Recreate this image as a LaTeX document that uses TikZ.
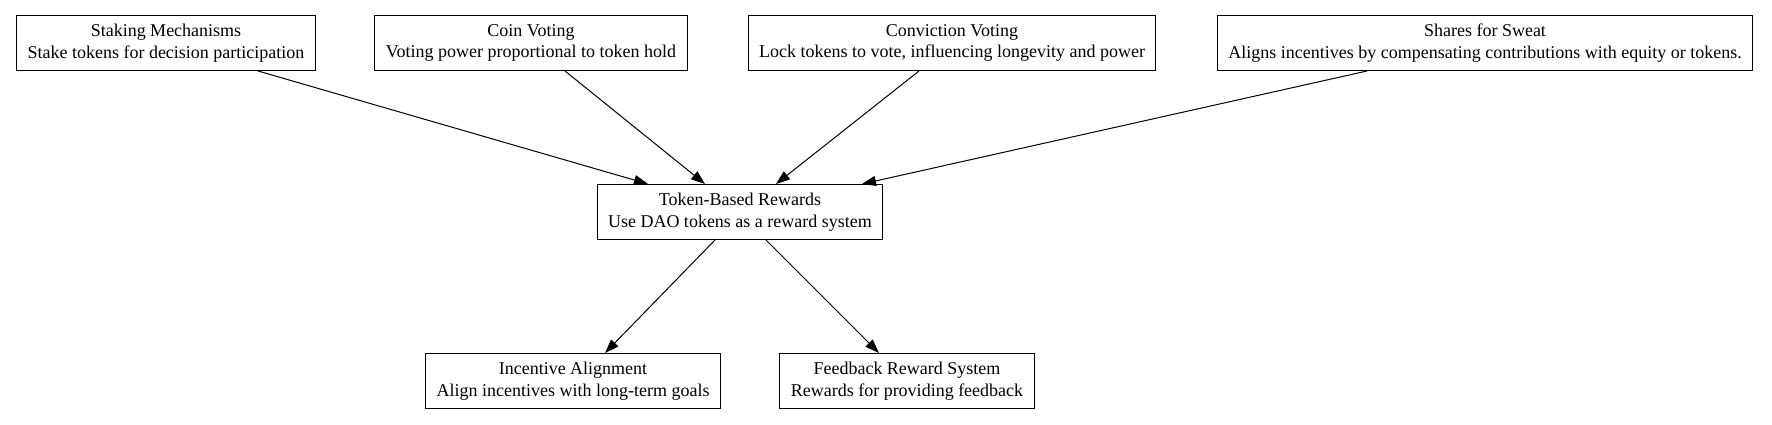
\documentclass[tikz,border=0pt]{standalone}
\usepackage{fontspec}
\setmainfont{Liberation Serif}
\usetikzlibrary{arrows.meta}

\begin{document}
\begin{tikzpicture}[x=1pt,y=1pt,
                every path/.style={>={Triangle[length=14pt,width=10pt]},line width=1pt},
                every node/.style={draw,rectangle,align=center,minimum height=55pt,inner xsep=11pt,
                                   font=\fontsize{18}{21.5}\selectfont}]
  \useasboundingbox[fill=white] (0,0) rectangle (1772,425);
  \node (stake)  at (166,382)  {Staking Mechanisms\\Stake tokens for decision participation};
  \node (coin)   at (531,382)  {Coin Voting\\Voting power proportional to token hold};
  \node (conv)   at (952,382)  {Conviction Voting\\Lock tokens to vote, influencing longevity and power};
  \node (sweat)  at (1485,382) {Shares for Sweat\\Aligns incentives by compensating contributions with equity or tokens.};
  \node (token)  at (740,213)  {Token-Based Rewards\\Use DAO tokens as a reward system};
  \node (align)  at (573,44)   {Incentive Alignment\\Align incentives with long-term goals};
  \node (feed)   at (907,44)   {Feedback Reward System\\Rewards for providing feedback};
  \draw[->] ([xshift=92pt]stake.south)  -- ([xshift=-92pt]token.north);
  \draw[->] ([xshift=34pt]coin.south)   -- ([xshift=-35pt]token.north);
  \draw[->] ([xshift=-33pt]conv.south)  -- ([xshift=36pt]token.north);
  \draw[->] ([xshift=-118pt]sweat.south) -- ([xshift=122pt]token.north);
  \draw[->] ([xshift=-25pt]token.south) -- ([xshift=32pt]align.north);
  \draw[->] ([xshift=26pt]token.south)  -- ([xshift=-28pt]feed.north);
\end{tikzpicture}
\end{document}
